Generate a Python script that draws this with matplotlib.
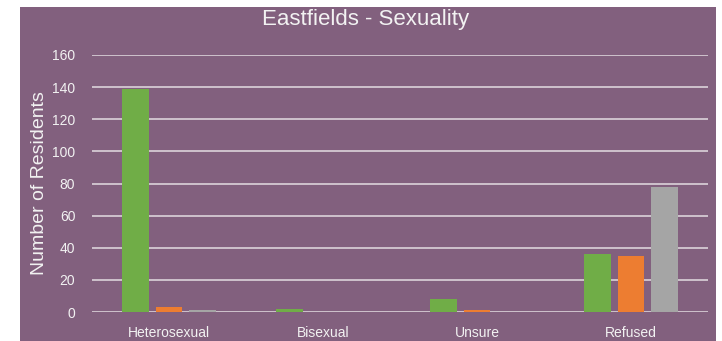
import matplotlib
matplotlib.use("Agg")
import matplotlib.pyplot as plt
from matplotlib.patches import Rectangle
import numpy as np

categories = ["Heterosexual", "Bisexual", "Unsure", "Refused"]
series_a = [139, 2, 8, 36]
series_b = [3, 0, 1, 35]
series_c = [1, 0, 0, 78]
yticks = [0, 20, 40, 60, 80, 100, 120, 140, 160]

bg = "#82607E"
txt = "#F2F2F2"
colors = ["#70AD47", "#ED7D31", "#A5A5A5"]

plt.rcParams["font.family"] = ["Liberation Sans", "DejaVu Sans"]

W, H = 722, 341
fig = plt.figure(figsize=(W / 100, H / 100), dpi=100)
fig.patch.set_facecolor("white")
fig.add_artist(Rectangle((20 / W, 0), (716 - 20) / W, 334 / H,
                         transform=fig.transFigure, facecolor=bg,
                         edgecolor="none", zorder=0))

ax = fig.add_axes([92 / W, 29 / H, 616 / W, 257 / H])
ax.set_facecolor("none")
ax.set_zorder(1)

x = np.arange(len(categories))
bw = 0.175
step = 0.22
for i, (vals, c) in enumerate(zip([series_a, series_b, series_c], colors)):
    ax.bar(x + (i - 1) * step, vals, width=bw, color=c, zorder=3)

ax.set_xlim(-0.5, len(categories) - 0.5)
ax.set_ylim(0, 160)
ax.set_yticks(yticks)
ax.set_xticks(x)
ax.set_xticklabels(categories)
ax.yaxis.grid(True, color="#D4CAD3", linewidth=1.3, zorder=0)
ax.set_axisbelow(True)
for s in ax.spines.values():
    s.set_visible(False)
ax.tick_params(axis="both", length=0, colors=txt, labelsize=10)
ax.tick_params(axis="y", pad=12)
ax.tick_params(axis="x", pad=10)

fig.text(40 / W, 1 - 183.5 / H, "Number of Residents", rotation=90,
         ha="center", va="center", color=txt, fontsize=14)
fig.text(366 / W, 1 - 20 / H, "Eastfields - Sexuality", ha="center",
         va="center", color=txt, fontsize=16)

fig.savefig("out.png", dpi=100, facecolor=fig.get_facecolor())
